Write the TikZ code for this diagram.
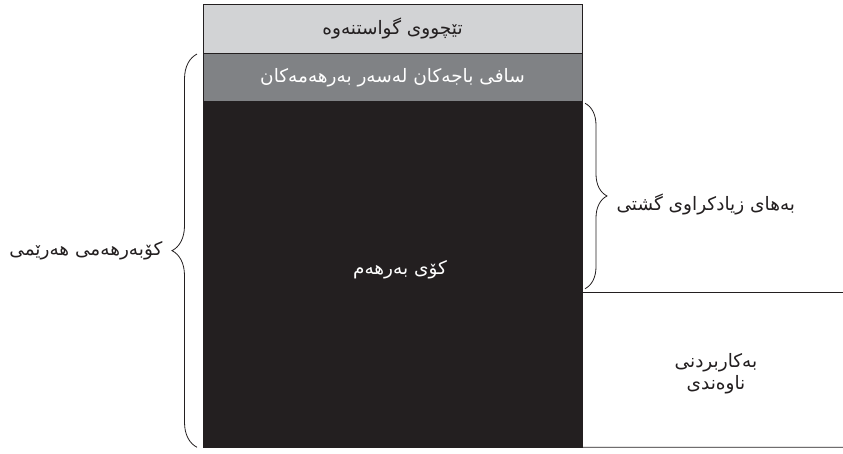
\documentclass[tikz,border=0pt]{standalone}
\usepackage{fontspec}
\usepackage{xcolor}
\usepackage{tikz}
\usetikzlibrary{positioning, decorations.pathreplacing}
\newfontfamily\arabicfont[Script=Arabic]{DejaVu Sans}
\TeXXeTstate=1
\definecolor{edge}{HTML}{231F20}
\definecolor{pale}{HTML}{D2D3D5}
\definecolor{mid}{HTML}{808285}
\definecolor{deep}{HTML}{231F20}

\begin{document}
\begin{tikzpicture}[x=1pt, y=-1pt, font=\arabicfont\fontsize{18.5}{22}\selectfont, band/.style={rectangle, draw=edge, line width=0.8pt, minimum width=379pt, inner sep=0pt, outer sep=0pt}, lbl/.style={align=center, text=edge}, brc/.style={decorate, decoration={brace, amplitude=#1}, draw=edge, line width=0.8pt}]
\useasboundingbox (0,0) rectangle (843,454);
\node[band, fill=pale, minimum height=48.5pt, text=edge] at (392.5,28.8) (b1) {\beginR تێچووی گواستنەوە\endR};
\node[band, fill=mid, minimum height=48.7pt, text=white, below=0pt of b1] (b2) {\beginR سافی باجەکان لەسەر بەرهەمەکان\endR};
\node[band, fill=deep, minimum height=345.5pt, below=0pt of b2] (b3) {};
\node[text=white] at (400,270) (gdp) {\beginR کۆی بەرهەم\endR};
\coordinate (cut) at (582,292.7);
\coordinate (cutend) at (843,292.7);
\coordinate (base) at (843,447.2);
\draw[edge, line width=0.8pt] (cut) -- (cutend);
\draw[edge, line width=0.8pt] (b3.south east) -- (base);
\coordinate (rtop) at ([xshift=3pt, yshift=-1.5pt]b3.north east);
\coordinate (rbot) at ([xshift=3pt, yshift=4pt]cut);
\draw[brc=22pt] (rtop) -- (rbot);
\coordinate (ltop) at ([xshift=-6pt, yshift=-1pt]b2.north west);
\coordinate (lbot) at ([xshift=-6pt, yshift=0pt]b3.south west);
\draw[brc=25pt] (lbot) -- (ltop);
\node[lbl, anchor=west] at (613,204) (gva) {\beginR بەهای زیادکراوی گشتی\endR};
\node[lbl, anchor=east] at (166,251) (grp) {\beginR کۆبەرهەمی هەرێمی\endR};
\node[lbl] at (716,374) (ic) {\beginR بەکاربردنی\endR\\\beginR ناوەندی\endR};
\end{tikzpicture}
\end{document}
